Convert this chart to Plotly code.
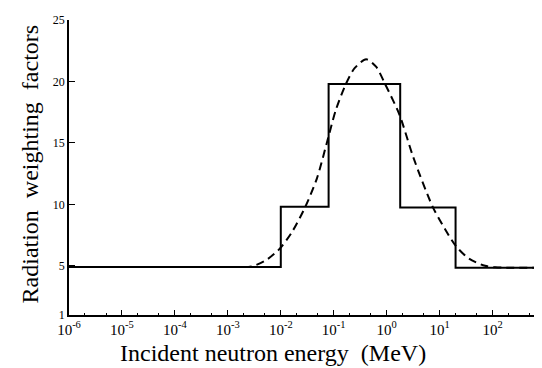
import plotly.graph_objects as go

# Step function (ICRP radiation weighting factors), energies in MeV
step_energy = [1e-6, 0.01, 0.08, 1.8, 20, 950]
step_value = [4.9, 9.8, 19.8, 9.75, 4.85, 4.85]

# Continuous (dashed) curve
curve_energy = [0.002, 0.0028, 0.005, 0.0091, 0.016, 0.029, 0.048, 0.074, 0.11,
                0.17, 0.25, 0.41, 0.63, 0.93, 1.74, 3.2, 7.4, 12.6, 20.4, 35.5,
                72, 112, 950]
curve_value = [4.9, 4.95, 5.4, 6.3, 7.7, 9.8, 12.1, 15.0, 17.7,
               19.8, 21.1, 21.8, 21.2, 19.8, 17.3, 13.8, 9.8, 8.0, 6.6, 5.6,
               5.0, 4.88, 4.85]

x_tick_vals = [1e-6, 1e-5, 1e-4, 1e-3, 1e-2, 1e-1, 1e0, 1e1, 1e2]
x_tick_text = ["10<sup>-6</sup>", "10<sup>-5</sup>", "10<sup>-4</sup>", "10<sup>-3</sup>",
               "10<sup>-2</sup>", "10<sup>-1</sup>", "10<sup>0</sup>", "10<sup>1</sup>",
               "10<sup>2</sup>"]
x_minor_vals = [m * 10.0 ** k for k in range(-6, 3) for m in (2, 5)]
y_tick_vals = [1, 5, 10, 15, 20, 25]

FONT = "Liberation Serif"

fig = go.Figure()
fig.add_trace(go.Scatter(x=step_energy, y=step_value, mode="lines",
                         line=dict(color="black", width=2, shape="hv"),
                         showlegend=False, hoverinfo="skip"))
fig.add_trace(go.Scatter(x=curve_energy, y=curve_value, mode="lines",
                         line=dict(color="black", width=2, dash="8px,5px", shape="spline",
                                   smoothing=0.8),
                         showlegend=False, hoverinfo="skip"))

fig.update_layout(
    width=542, height=368,
    margin=dict(l=61, r=5, t=12, b=61),
    paper_bgcolor="white", plot_bgcolor="white",
    font=dict(family=FONT, color="black"),
    xaxis=dict(type="log", range=[-6, 2.99], showgrid=False, zeroline=False,
               showline=True, linecolor="black", linewidth=1.5,
               tickmode="array", tickvals=x_tick_vals, ticktext=x_tick_text,
               ticks="inside", ticklen=5, tickwidth=1.2, tickcolor="black",
               tickfont=dict(family=FONT, size=15, color="black"),
               minor=dict(tickmode="array", tickvals=x_minor_vals, ticks="inside",
                          ticklen=2, tickwidth=1, tickcolor="black", showgrid=False)),
    yaxis=dict(range=[1, 25], showgrid=False, zeroline=False,
               showline=True, linecolor="black", linewidth=1.5,
               tickmode="array", tickvals=y_tick_vals,
               ticks="inside", ticklen=6, tickwidth=1.2, tickcolor="black",
               tickfont=dict(family=FONT, size=12, color="black")),
)

fig.add_annotation(text="Incident neutron energy  (MeV)", xref="paper", yref="paper",
                   x=0.429, y=-0.128, xanchor="center", yanchor="middle",
                   showarrow=False, font=dict(family=FONT, size=24))
fig.add_annotation(text="Radiation  weighting  factors", xref="paper", yref="paper",
                   x=-0.083, y=0.512, xanchor="center", yanchor="middle", textangle=-90,
                   showarrow=False, font=dict(family=FONT, size=24))

fig.write_html("out.html")
